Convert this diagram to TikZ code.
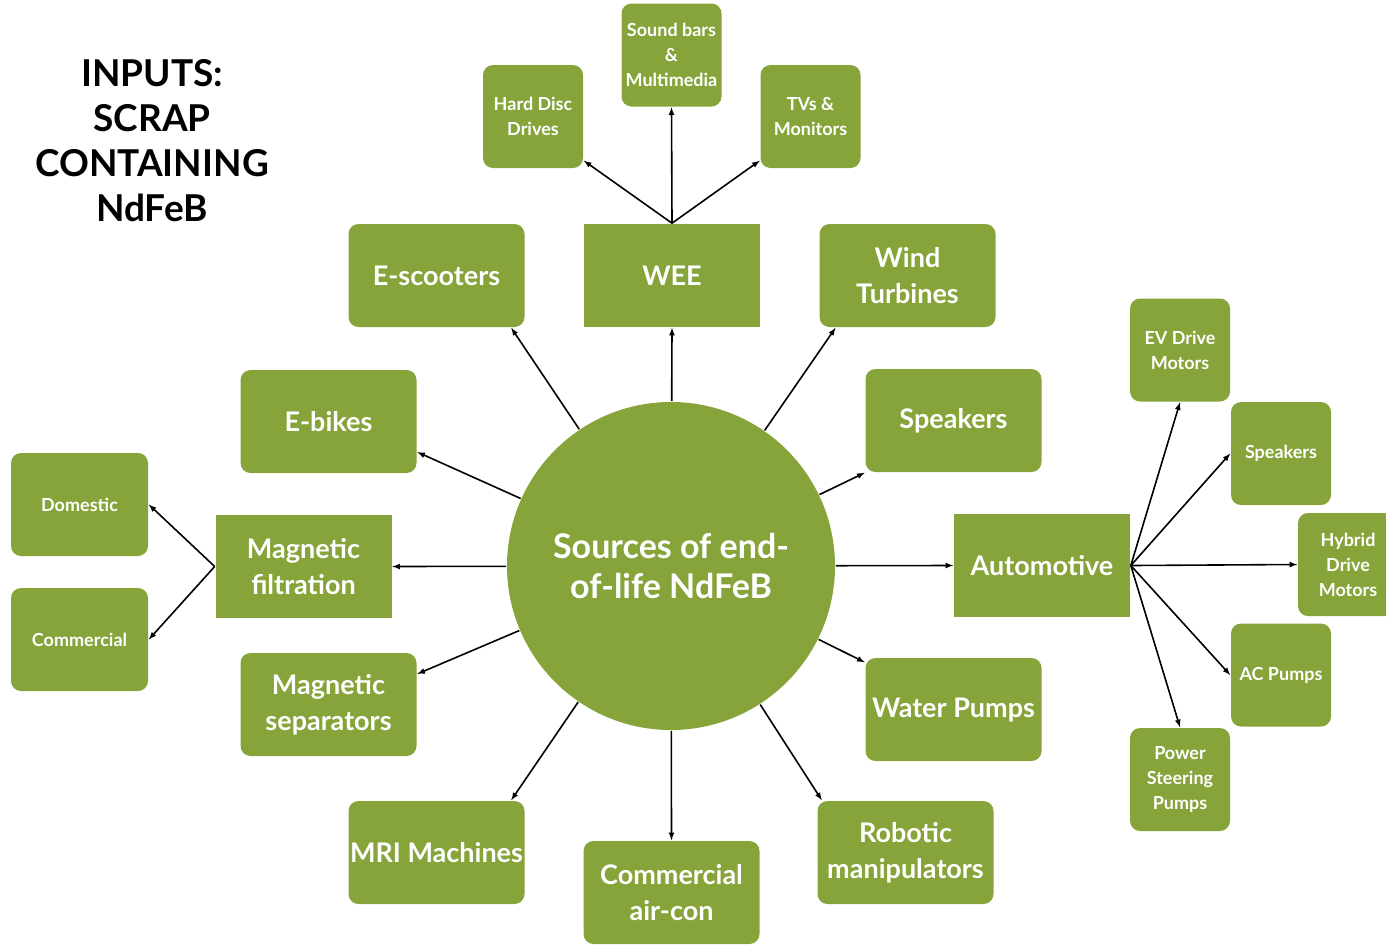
\documentclass[tikz,border=0pt]{standalone}
\usepackage{fontspec}
\setmainfont{Lato}
\usetikzlibrary{arrows, shapes}
\definecolor{leaf}{RGB}{135,164,58}

\begin{document}
\begin{tikzpicture}[x=1pt, y=-1pt, >=latex, line width=1.6pt,
					box/.style={fill=leaf, text=white, inner sep=0pt, align=center,
						minimum width=176pt, minimum height=103pt, font=\bfseries\fontsize{27}{36}\selectfont},
					rbox/.style={box, rounded corners=10pt},
					sbox/.style={rbox, minimum width=100pt, font=\bfseries\fontsize{18}{25}\selectfont},
					wbox/.style={sbox, minimum width=137pt}]
					\clip (0,0) rectangle (1386,946); %Bildbereich
					% Titel links oben
					\node[align=center, font=\bfseries\fontsize{37}{45}\selectfont] (inputs) at (152,141)
						{INPUTS:\\SCRAP\\CONTAINING\\NdFeB};
					% Kreis in der Mitte
					\node[circle, fill=leaf, text=white, minimum size=328pt, inner sep=0pt, align=center,
						font=\bfseries\fontsize{34}{40}\selectfont] (src) at (671,566) {Sources of end-\\of-life NdFeB};
					% Quellen rund um den Kreis
					\node[box]  (wee)  at (672,275.5)   {WEE};
					\node[rbox] (esc)  at (436.5,275.5) {E-scooters};
					\node[rbox] (wind) at (907.5,275.5) {Wind\\Turbines};
					\node[rbox] (ebk)  at (328.5,421.5) {E-bikes};
					\node[rbox] (spk)  at (953.5,420.5) {Speakers};
					\node[box]  (mf)   at (303.5,566.5) {Magnetic\\filtration};
					\node[box]  (auto) at (1042,565.5)  {Automotive};
					\node[rbox] (msep) at (328.5,704.5) {Magnetic\\separators};
					\node[rbox] (wp)   at (953.5,709.5) {Water Pumps};
					\node[rbox] (mri)  at (436.5,852.5) {MRI Machines};
					\node[rbox] (rob)  at (905.5,852.5) {Robotic\\manipulators};
					\node[rbox] (acon) at (671.5,892.5) {Commercial\\air-con};
					% WEE
					\node[sbox] (hdd) at (533,116.5)  {Hard Disc\\Drives};
					\node[sbox] (snd) at (671.5,55)   {Sound bars\\\&\\Multimedia};
					\node[sbox] (tv)  at (810.5,116.5) {TVs \&\\Monitors};
					% Magnetic filtration
					\node[wbox] (dom) at (79.5,504.5) {Domestic};
					\node[wbox] (com) at (79.5,639.5) {Commercial};
					% Automotive
					\node[sbox] (ev)   at (1180,350)   {EV Drive\\Motors};
					\node[sbox] (spk2) at (1281,453.5) {Speakers};
					\node[sbox] (hyb)  at (1348,564.5) {Hybrid\\Drive\\Motors};
					\node[sbox] (ac)   at (1281,675)   {AC Pumps};
					\node[sbox] (psp)  at (1180,779.5) {Power\\Steering\\Pumps};
					% Pfeile
					\foreach \t in {wee.south, esc.-35, wind.216, ebk.-19, spk.south west, mf.east,
						auto.west, msep.19, wp.152, mri.35, acon.north, rob.148}
						\draw[->] (src) -- (\t);
					\foreach \t in {hdd.-41, snd.south, tv.221} \draw[->] (wee.north) -- (\t);
					\foreach \t in {dom.east, com.east} \draw[->] (mf.west) -- (\t);
					\foreach \t in {ev.south, spk2.west, hyb.west, ac.west, psp.north} \draw[->] (auto.east) -- (\t);
				\end{tikzpicture}
\end{document}
